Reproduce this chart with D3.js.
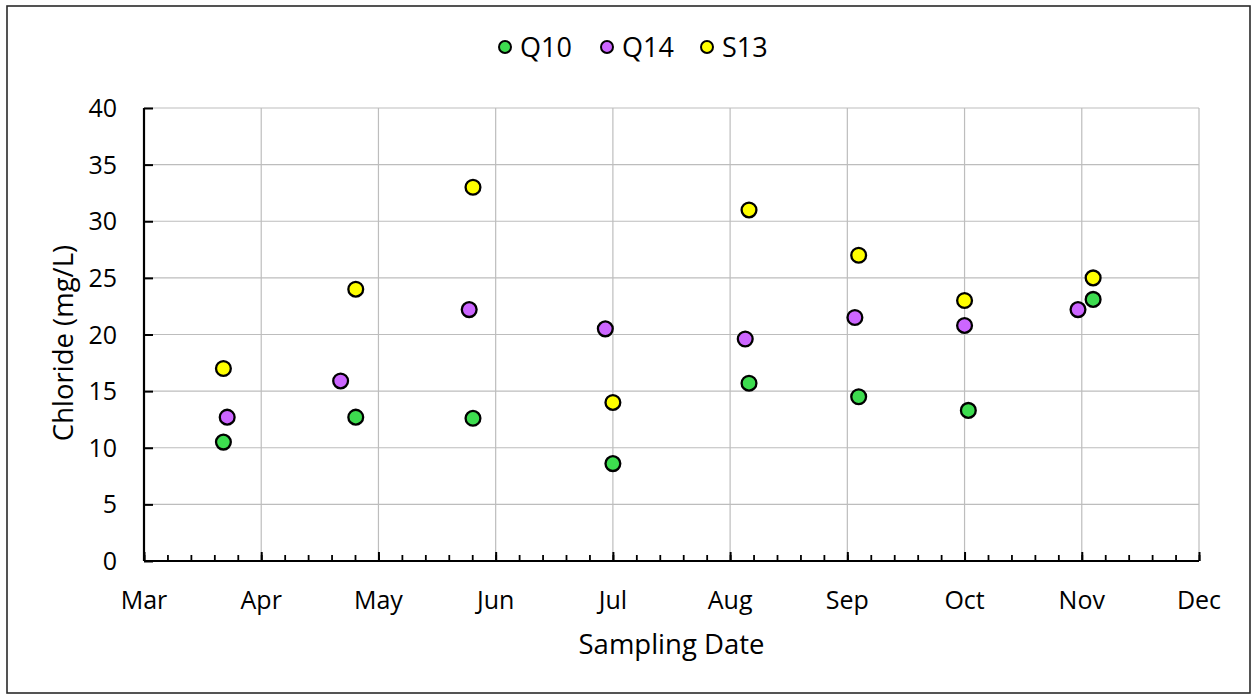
<!DOCTYPE html>
<html>
<head>
<meta charset="utf-8">
<script src="https://cdn.jsdelivr.net/npm/d3@7"></script>
<style>
  body { margin: 0; background: #fff; }
  svg { display: block; }
</style>
</head>
<body>
<svg id="chart" width="1254" height="695"></svg>
<script>
// sampling dates and chloride values (mg/L)
var seriesNames = ["Q10", "Q14", "S13"];
var seriesColors = ["#3ddc4f", "#cc66ff", "#ffff00"];

var q10Dates = ["2019-03-22", "2019-04-26", "2019-05-27", "2019-07-03", "2019-08-08", "2019-09-06", "2019-10-05", "2019-11-07"];
var q10Values = [10.5, 12.7, 12.6, 8.6, 15.7, 14.5, 13.3, 23.1];

var q14Dates = ["2019-03-23", "2019-04-22", "2019-05-26", "2019-07-01", "2019-08-07", "2019-09-05", "2019-10-04", "2019-11-03"];
var q14Values = [12.7, 15.9, 22.2, 20.5, 19.6, 21.5, 20.8, 22.2];

var s13Dates = ["2019-03-22", "2019-04-26", "2019-05-27", "2019-07-03", "2019-08-08", "2019-09-06", "2019-10-04", "2019-11-07"];
var s13Values = [17.0, 24.0, 33.0, 14.0, 31.0, 27.0, 23.0, 25.0];

var monthLabels = ["Mar", "Apr", "May", "Jun", "Jul", "Aug", "Sep", "Oct", "Nov", "Dec"];
var yTicks = [0, 5, 10, 15, 20, 25, 30, 35, 40];

var AXIS_START = new Date("2019-03-01");
var MAJOR_DAYS = 31;
var MINOR_DAYS = 6.2;
var FONT = "'Open Sans', sans-serif";

function dayOffset(s) {
    return d3.utcDay.count(AXIS_START, new Date(s));
}

var svg = d3.select("#chart");

// outer frame
svg.append("rect")
    .attr("x", 7).attr("y", 6)
    .attr("width", 1243).attr("height", 687)
    .attr("fill", "none")
    .attr("stroke", "#2a2a2a")
    .attr("stroke-width", 1.6);

var plotLeft = 144, plotRight = 1199, plotTop = 108, plotBottom = 561;

var x = d3.scaleLinear()
    .domain([0, MAJOR_DAYS * (monthLabels.length - 1)])
    .range([plotLeft, plotRight]);

var y = d3.scaleLinear()
    .domain([0, 40])
    .range([plotBottom, plotTop]);

var majorVals = monthLabels.map(function(m, i) { return i * MAJOR_DAYS; });
var minorVals = d3.range(0, x.domain()[1] + 0.01, MINOR_DAYS);

// gridlines
svg.append("g")
    .selectAll("line")
    .data(yTicks.filter(function(d) { return d > 0; }))
    .enter()
    .append("line")
    .attr("x1", plotLeft).attr("x2", plotRight)
    .attr("y1", function(d) { return y(d); })
    .attr("y2", function(d) { return y(d); })
    .attr("stroke", "#bdbdbd")
    .attr("stroke-width", 1.2);

svg.append("g")
    .selectAll("line")
    .data(majorVals.slice(1))
    .enter()
    .append("line")
    .attr("x1", function(d) { return x(d); })
    .attr("x2", function(d) { return x(d); })
    .attr("y1", plotTop).attr("y2", plotBottom)
    .attr("stroke", "#bdbdbd")
    .attr("stroke-width", 1.2);

// y axis, ticks pointing inward
var yAxis = d3.axisRight(y).tickValues(yTicks).tickSize(9).tickFormat("");
var gy = svg.append("g")
    .attr("transform", "translate(" + plotLeft + ",0)")
    .call(yAxis);
gy.select(".domain").attr("d", "M0," + plotTop + "V" + plotBottom)
    .attr("stroke", "#000").attr("stroke-width", 2.2);
gy.selectAll(".tick line").attr("stroke", "#000").attr("stroke-width", 2);

svg.append("g")
    .selectAll("text")
    .data(yTicks)
    .enter()
    .append("text")
    .attr("x", 117)
    .attr("y", function(d) { return y(d); })
    .attr("dy", "0.36em")
    .attr("text-anchor", "end")
    .style("font-family", FONT)
    .style("font-size", "25px")
    .style("fill", "#000")
    .text(function(d) { return d; });

// x axis: minor and major ticks pointing up
var xMinor = d3.axisTop(x).tickValues(minorVals).tickSize(6).tickFormat("");
var gxm = svg.append("g")
    .attr("transform", "translate(0," + plotBottom + ")")
    .call(xMinor);
gxm.select(".domain").remove();
gxm.selectAll(".tick line").attr("stroke", "#000").attr("stroke-width", 1.8);

var xAxis = d3.axisTop(x).tickValues(majorVals).tickSize(9).tickFormat("");
var gx = svg.append("g")
    .attr("transform", "translate(0," + plotBottom + ")")
    .call(xAxis);
gx.select(".domain").attr("d", "M" + plotLeft + ",0H" + plotRight)
    .attr("stroke", "#000").attr("stroke-width", 2.2);
gx.selectAll(".tick line").attr("stroke", "#000").attr("stroke-width", 2);

svg.append("g")
    .selectAll("text")
    .data(majorVals)
    .enter()
    .append("text")
    .attr("x", function(d) { return x(d); })
    .attr("y", 609)
    .attr("text-anchor", "middle")
    .style("font-family", FONT)
    .style("font-size", "25px")
    .style("fill", "#000")
    .text(function(d, i) { return monthLabels[i]; });

// axis titles
svg.append("text")
    .attr("x", (plotLeft + plotRight) / 2)
    .attr("y", 654)
    .attr("text-anchor", "middle")
    .style("font-family", FONT)
    .style("font-size", "27.5px")
    .text("Sampling Date");

svg.append("text")
    .attr("transform", "translate(73,343) rotate(-90)")
    .attr("text-anchor", "middle")
    .style("font-family", FONT)
    .style("font-size", "27.5px")
    .text("Chloride (mg/L)");

// points
var allSeries = [
    { name: seriesNames[0], dates: q10Dates, values: q10Values, color: seriesColors[0] },
    { name: seriesNames[1], dates: q14Dates, values: q14Values, color: seriesColors[1] },
    { name: seriesNames[2], dates: s13Dates, values: s13Values, color: seriesColors[2] }
];

allSeries.forEach(function(s) {
    svg.append("g")
        .selectAll("circle")
        .data(s.values)
        .enter()
        .append("circle")
        .attr("cx", function(d, i) { return x(dayOffset(s.dates[i])); })
        .attr("cy", function(d) { return y(d); })
        .attr("r", 7.4)
        .attr("fill", s.color)
        .attr("stroke", "#000")
        .attr("stroke-width", 2.3);
});

// legend
var legendX = [505, 607, 707];
var legend = svg.append("g");
allSeries.forEach(function(s, i) {
    legend.append("circle")
        .attr("cx", legendX[i]).attr("cy", 47)
        .attr("r", 6)
        .attr("fill", s.color)
        .attr("stroke", "#000")
        .attr("stroke-width", 2);
    legend.append("text")
        .attr("x", legendX[i] + 15).attr("y", 47)
        .attr("dy", "0.36em")
        .style("font-family", FONT)
        .style("font-size", "27px")
        .text(s.name);
});
</script>
</body>
</html>
